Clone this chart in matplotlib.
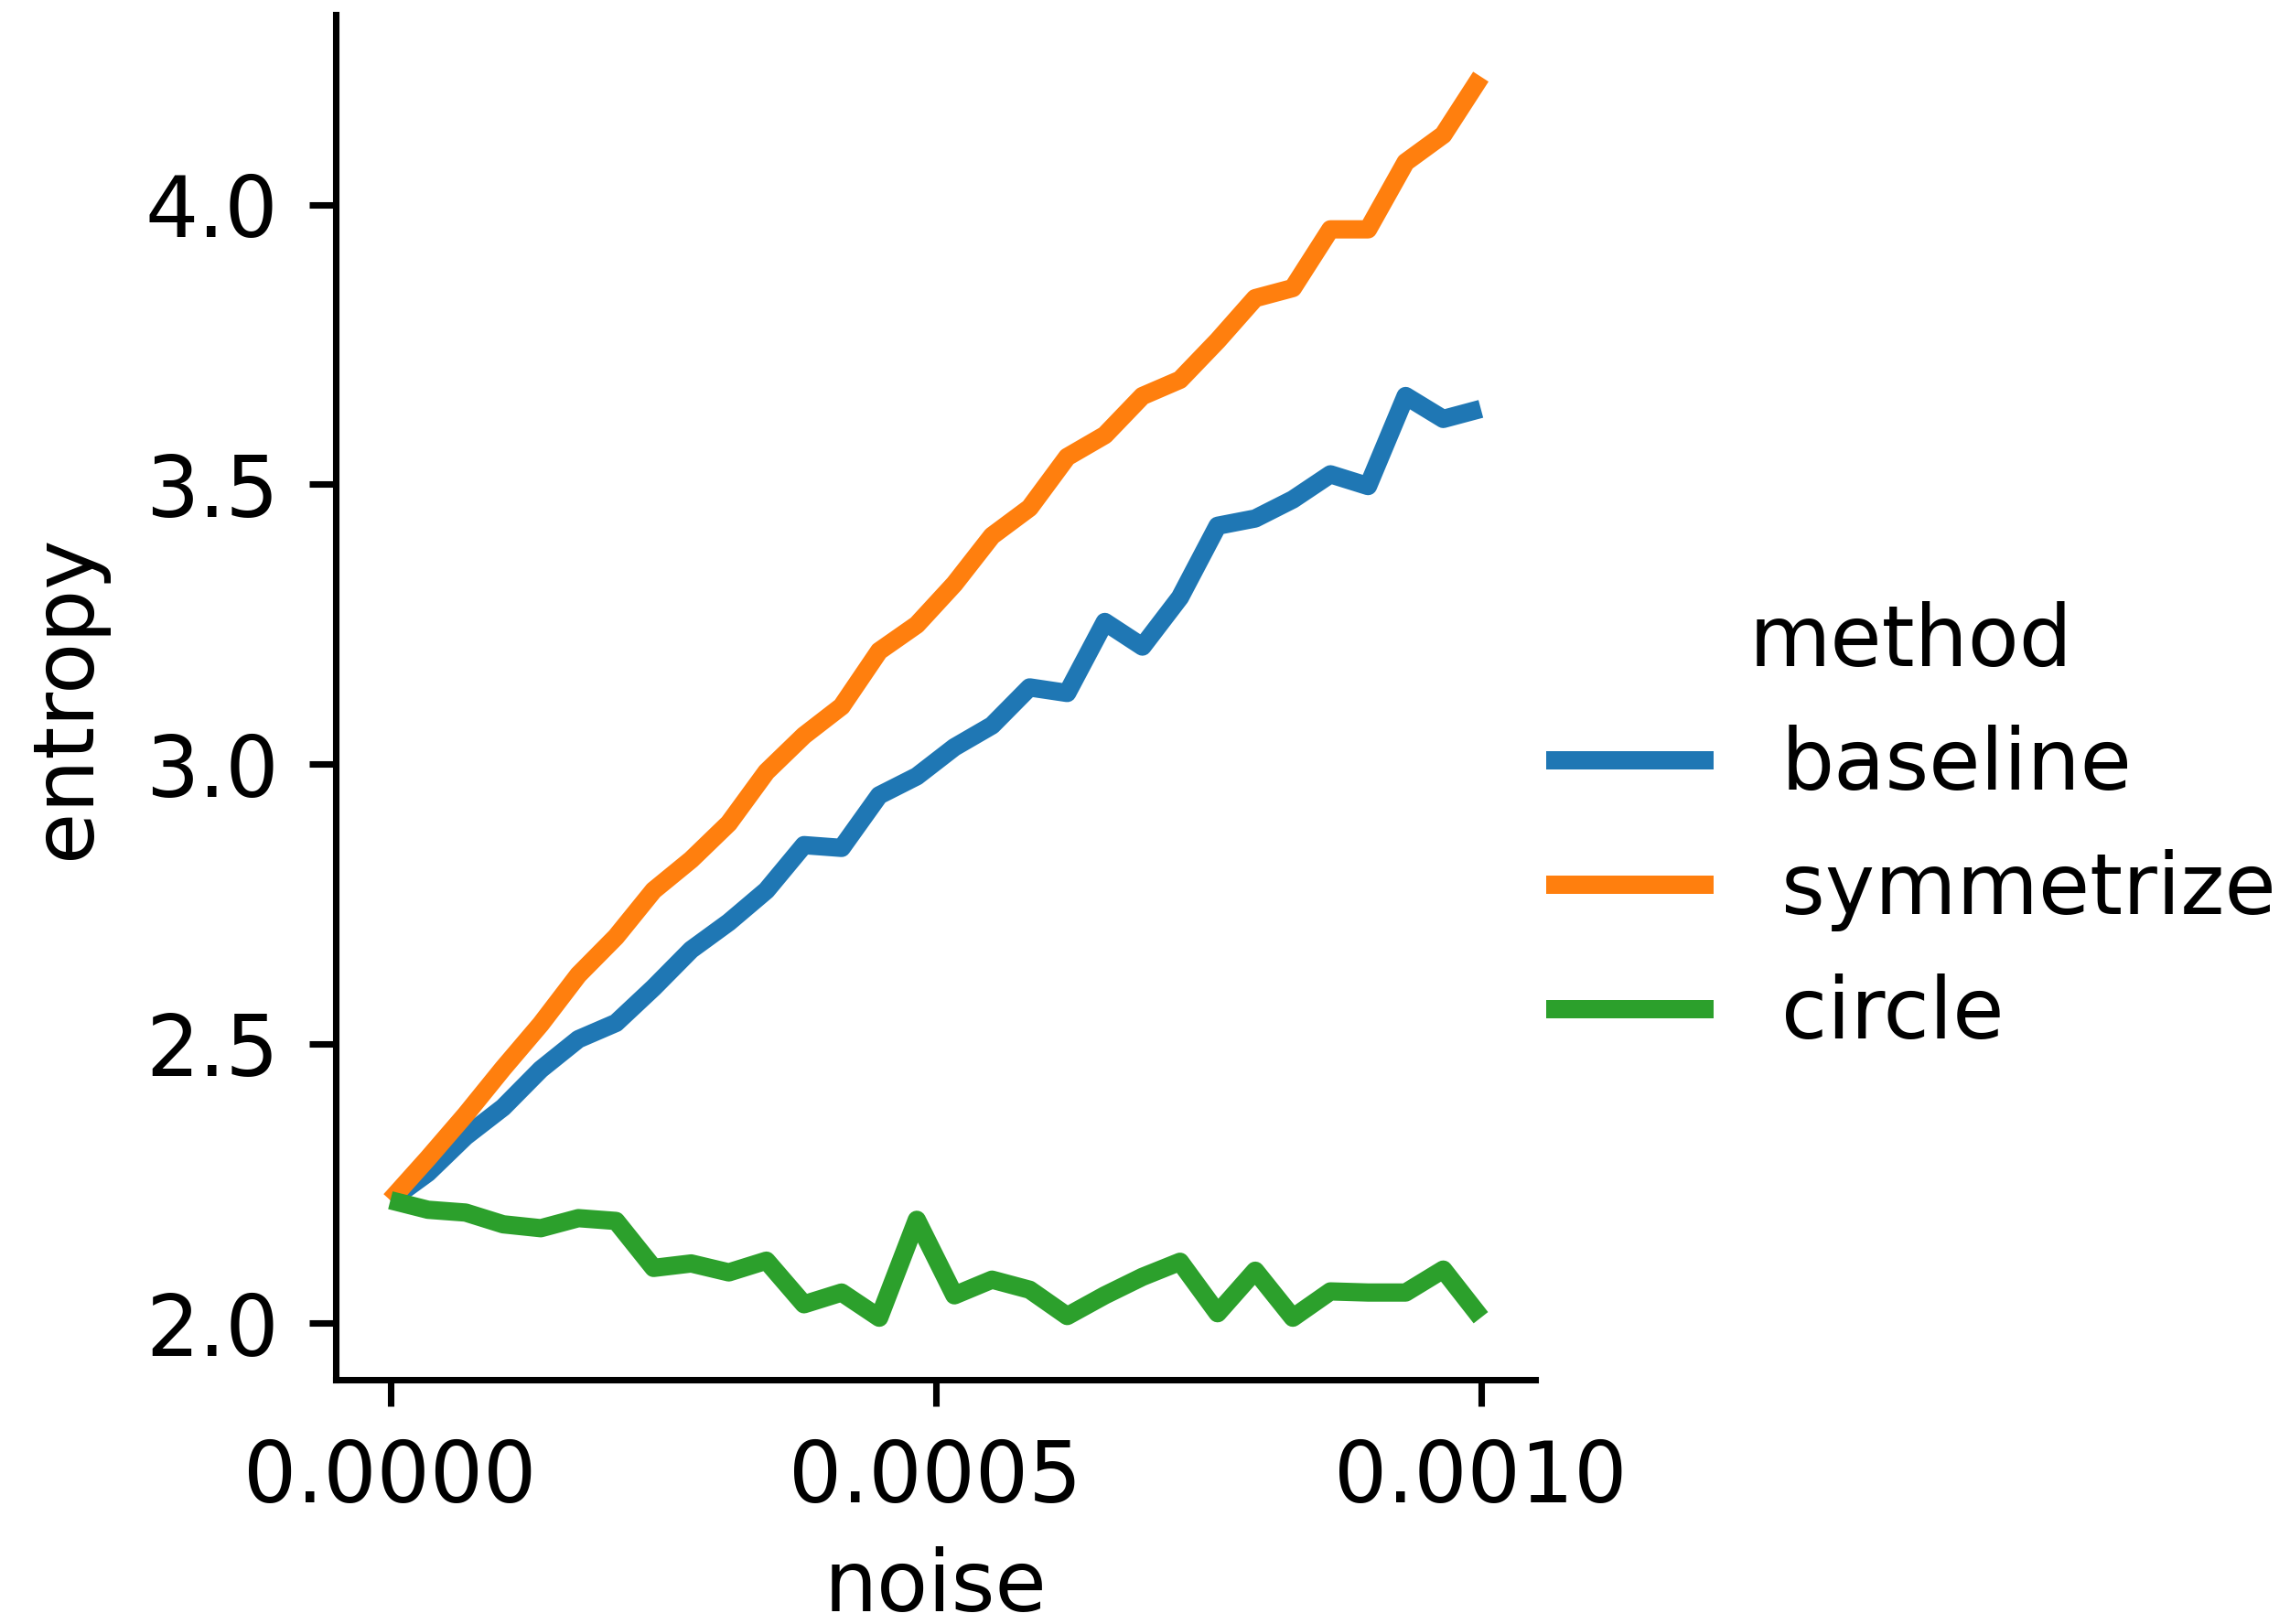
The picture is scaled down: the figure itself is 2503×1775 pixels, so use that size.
import numpy as np
import matplotlib
matplotlib.use("Agg")
import matplotlib.pyplot as plt

# noise levels (30 evenly spaced points from 0 to 1e-3)
noise = np.linspace(0, 0.001, 30)

methods = ["baseline", "symmetrize", "circle"]
colors = ["#1f77b4", "#ff7f0e", "#2ca02c"]

baseline = [2.220, 2.269, 2.334, 2.386, 2.454, 2.508, 2.537, 2.600, 2.668, 2.717,
            2.774, 2.855, 2.850, 2.944, 2.978, 3.030, 3.069, 3.137, 3.127, 3.254,
            3.210, 3.298, 3.426, 3.439, 3.473, 3.518, 3.497, 3.658, 3.617, 3.635]
symmetrize = [2.220, 2.295, 2.373, 2.456, 2.535, 2.623, 2.691, 2.774, 2.829, 2.894,
              2.986, 3.051, 3.103, 3.202, 3.249, 3.322, 3.408, 3.458, 3.549, 3.588,
              3.658, 3.687, 3.757, 3.833, 3.851, 3.956, 3.956, 4.076, 4.125, 4.229]
circle = [2.220, 2.203, 2.198, 2.177, 2.170, 2.188, 2.183, 2.099, 2.107, 2.091,
          2.112, 2.034, 2.055, 2.010, 2.185, 2.050, 2.078, 2.060, 2.013, 2.050,
          2.083, 2.110, 2.018, 2.094, 2.010, 2.057, 2.055, 2.055, 2.096, 2.010]

plt.rcParams.update({
    "font.family": "DejaVu Sans",
    "font.size": 22,
    "axes.linewidth": 1.7,
    "xtick.major.size": 7,
    "ytick.major.size": 7,
    "xtick.major.width": 1.7,
    "ytick.major.width": 1.7,
    "xtick.major.pad": 8,
    "ytick.major.pad": 8,
})

fig = plt.figure(figsize=(2504 / 300, 1775 / 300), dpi=300)
ax = fig.add_axes([0.1466, 0.1504, 0.5236, 0.8406])

for name, vals, c in zip(methods, [baseline, symmetrize, circle], colors):
    ax.plot(noise, vals, color=c, lw=4.8, label=name, solid_capstyle="butt")

ax.spines["top"].set_visible(False)
ax.spines["right"].set_visible(False)
ax.set_xticks([0, 0.0005, 0.001])
ax.set_xticklabels(["0.0000", "0.0005", "0.0010"])
ax.set_yticks([2.0, 2.5, 3.0, 3.5, 4.0])
ax.set_xlabel("noise", labelpad=7)
ax.set_ylabel("entropy", labelpad=10)

handles, labels = ax.get_legend_handles_labels()
fig.legend(handles, labels, title="method", loc="center left",
           bbox_to_anchor=(0.642, 0.49), frameon=False, fontsize=22,
           title_fontsize=22)

fig.savefig("out.png", dpi=300)
